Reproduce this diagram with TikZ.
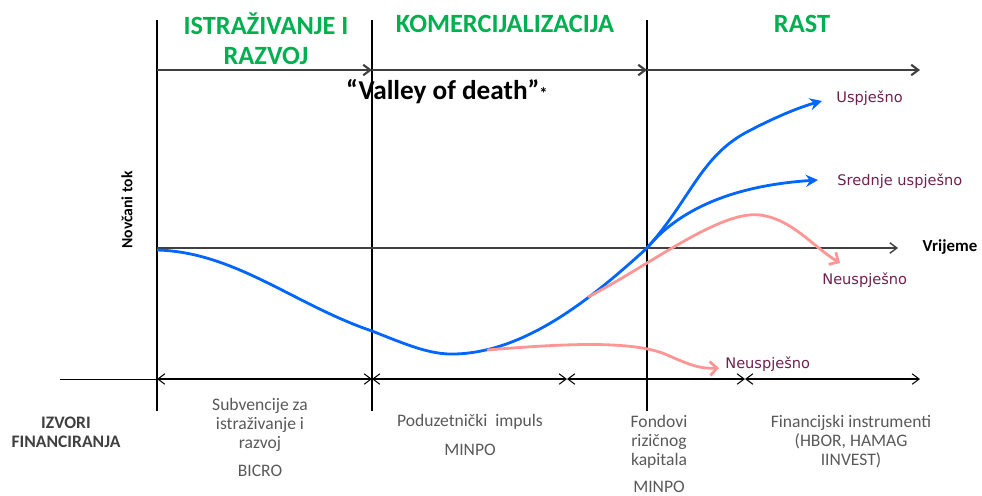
\documentclass[tikz,border=0pt]{standalone}
\usepackage{fontspec}
\setmainfont{Carlito}
\newfontfamily\ishodfont{DejaVu Sans}
\usetikzlibrary{arrows.meta}
\definecolor{zelena}{RGB}{0,176,80}
\definecolor{plava}{RGB}{0,102,255}
\definecolor{roza}{RGB}{255,150,150}
\definecolor{bordo}{RGB}{112,32,80}
\definecolor{tamnosiva}{RGB}{64,64,64}
\definecolor{siva}{RGB}{89,89,89}
\tikzset{
	faza/.style={text=zelena, font=\bfseries\fontsize{15}{17}\selectfont, align=center, inner sep=0pt},
	izvor/.style={text=siva, font=\fontsize{10}{10.8}\selectfont, align=center, inner sep=0pt},
	ishod/.style={text=bordo, font=\ishodfont\fontsize{8.3}{10}\selectfont, anchor=west, inner sep=0pt},
	uspjeh/.style={plava, line width=1.6pt, -{Stealth[length=7pt,width=7pt,inset=2.5pt]}},
	neuspjeh/.style={roza, line width=1.6pt, -{Straight Barb[length=4pt,width=8pt]}},
	strelica/.style={-{Straight Barb[length=4pt,width=6pt]}},
	dvostrelica/.style={{Straight Barb[length=4pt,width=6pt]}-{Straight Barb[length=4pt,width=6pt]}}
}
\begin{document}
\begin{tikzpicture}[x=0.02cm,y=-0.02cm]
	\useasboundingbox (0,0) rectangle (982,495);

% granice faza
	\foreach \x/\ime in {157/a, 372/b, 647/c} {
		\coordinate (\ime-gore) at (\x,20);
		\coordinate (\ime-dolje) at (\x,411);
		\coordinate (\ime-vrh) at (\x,70);
	}
	\coordinate (kraj-vrh) at (920,70);
	\draw[line width=1pt] (a-gore) -- (a-dolje);
	\draw[line width=1.4pt] (b-gore) -- (b-dolje);
	\draw[line width=1.2pt] (c-gore) -- (c-dolje);
	\draw[tamnosiva, line width=1.2pt, strelica] (a-vrh) -- (b-vrh);
	\draw[tamnosiva, line width=1.2pt, strelica] (b-vrh) -- (c-vrh);
	\draw[tamnosiva, line width=1.2pt, strelica] (c-vrh) -- (kraj-vrh);

% os vremena
	\coordinate (ishodiste) at (157,248);
	\coordinate (os-kraj) at (898,248);
	\draw[tamnosiva, line width=0.8pt, strelica] (ishodiste) -- (os-kraj);
	\node[font=\bfseries\fontsize{9.6}{12}\selectfont] (vrijeme) at (950,247) {Vrijeme};
	\node[font=\bfseries\fontsize{8.9}{10}\selectfont, rotate=90] (tok) at (127,210) {Novčani tok};

% izvori financiranja
	\coordinate (izvor-lijevo) at (60,379);
	\draw (izvor-lijevo) -- (157,379);
	\foreach \x [count=\i] in {157, 372, 567, 745}
		\coordinate (r\i) at (\x,379);
	\coordinate (r5) at (920,379);
	\foreach \i [evaluate=\i as \j using int(\i+1)] in {1,...,4}
		\draw[dvostrelica, line width=0.6pt] (r\i) -- (r\j);

% faze
	\node[faza] (istrazivanje) at (266,39) {ISTRAŽIVANJE I\\RAZVOJ};
	\node[faza] (komercijalizacija) at (505,24) {KOMERCIJALIZACIJA};
	\node[faza] (rast) at (802,24) {RAST};
	\node[font=\bfseries\fontsize{15.5}{17}\selectfont, inner sep=0pt] (dolina) at (447,92)
		{“Valley of death”{\fontsize{9.5}{9}\selectfont*}};

% novcani tok
	\coordinate (start) at (157,250);
	\coordinate (dno) at (455,354);
	\coordinate (prijelom) at (647,248);
	\draw[plava, line width=1.6pt] (start) .. controls (235,252) and (295,305) .. (372,331)
		.. controls (405,344) and (430,355) .. (dno)
		.. controls (525,352) and (590,300) .. (prijelom);
	\draw[uspjeh] (prijelom) .. controls (690,200) and (700,158) .. (745,133)
		.. controls (775,117) and (800,107) .. (822,101);
	\draw[uspjeh] (prijelom) .. controls (675,214) and (725,186) .. (818,180);

	\coordinate (pad-a) at (487,350);
	\coordinate (pad-b) at (588,297);
	\draw[neuspjeh] (pad-a) .. controls (560,344) and (630,340) .. (665,354)
		.. controls (690,365) and (700,369) .. (719,368);
	\draw[neuspjeh] (pad-b) .. controls (650,265) and (720,210) .. (760,215)
		.. controls (792,219) and (812,246) .. (840,263);

% ishodi
	\node[ishod] (uspjesno) at (836,98) {Uspješno};
	\node[ishod] (srednje) at (837,181) {Srednje uspješno};
	\node[ishod] (neuspjesno-a) at (822,280) {Neuspješno};
	\node[ishod] (neuspjesno-b) at (725,364) {Neuspješno};

% tekstovi ispod
	\node[izvor, text=tamnosiva, font=\bfseries\fontsize{10}{10.8}\selectfont] (izvori) at (66,432) {IZVORI\\FINANCIRANJA};
	\node[izvor] (subvencije) at (260,425) {Subvencije za\\istraživanje i\\razvoj};
	\node[izvor] (bicro) at (260,471) {BICRO};
	\node[izvor] (impuls) at (470,422) {Poduzetnički\ \ impuls};
	\node[izvor] (minpo-a) at (470,450) {MINPO};
	\node[izvor] (fondovi) at (659,442) {Fondovi\\rizičnog\\kapitala};
	\node[izvor] (minpo-b) at (659,487) {MINPO};
	\node[izvor] (instrumenti) at (851,442) {Financijski instrumenti\\(HBOR, HAMAG\\IINVEST)};
\end{tikzpicture}
\end{document}
